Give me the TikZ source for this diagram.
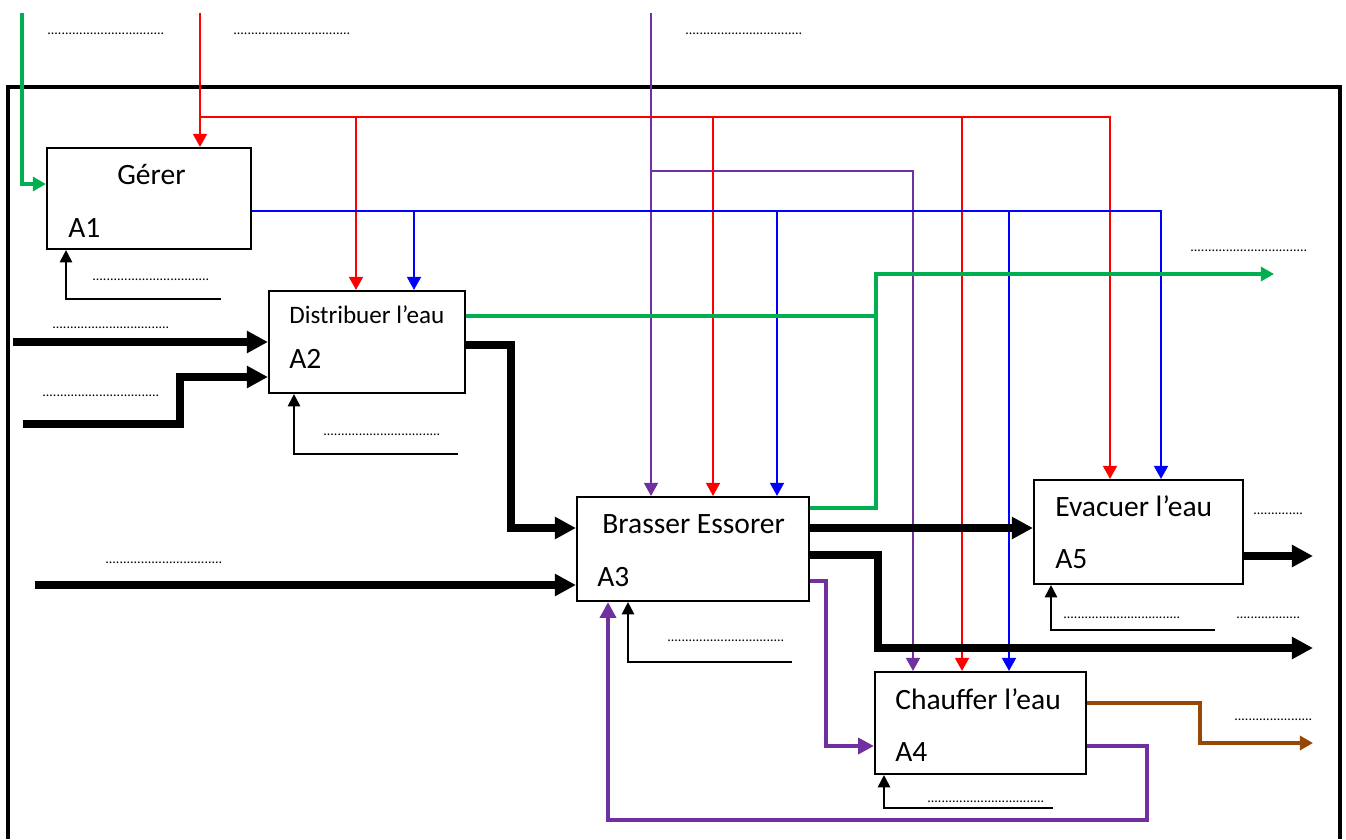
\documentclass[tikz,border=0pt]{standalone}
\usepackage{fontspec}
\setmainfont{Carlito}
\usetikzlibrary{arrows.meta,fit}
\definecolor{cred}{RGB}{255,0,0}
\definecolor{cblue}{RGB}{0,0,255}
\definecolor{cgreen}{RGB}{0,176,80}
\definecolor{cpurple}{RGB}{112,48,160}
\definecolor{cbrown}{RGB}{152,72,6}
\begin{document}
\begin{tikzpicture}[x=0.02cm,y=-0.02cm,
 box/.style={draw,line width=1.2pt,inner sep=0pt},
 lbl/.style={anchor=base west,inner sep=0pt,font=\fontsize{16.8}{18}\selectfont},
 lbls/.style={anchor=base west,inner sep=0pt,font=\fontsize{14.3}{16}\selectfont},
 dotlbl/.style={anchor=base west,inner sep=0pt,font=\fontsize{8}{9}\selectfont},
 thinarr/.style={line width=1.1pt,-{Triangle[length=7.5pt,width=8pt]}},
 mech/.style={line width=1.1pt,black,-{Triangle[length=7pt,width=7pt]}},
 thickarr/.style={line width=4pt,black,-{Triangle[length=12pt,width=12pt]}},
 purparr/.style={line width=2.8pt,cpurple,-{Triangle[length=9pt,width=9pt]}},
 greenarr/.style={line width=1.8pt,cgreen,-{Triangle[length=7.5pt,width=8pt]}},
 greenline/.style={line width=1.8pt,cgreen},
 brownarr/.style={line width=1.9pt,cbrown,-{Triangle[length=7.5pt,width=8pt]}},
 frame/.style={line width=2.3pt,black}]
\path[use as bounding box] (0,0) rectangle (1346,839);

% outer frame
\draw[frame] (8,839) -- (8,87) -- (1340,87) -- (1340,839);

% boxes
\node[box,fit={(47,148) (251,249)}] (A1) {};
\node[box,fit={(269,291) (465,393)}] (A2) {};
\node[box,fit={(577,497) (809,601)}] (A3) {};
\node[box,fit={(875,672) (1086,774)}] (A4) {};
\node[box,fit={(1034,480) (1243,584)}] (A5) {};

% box texts
\node[lbl] (t1) at (117,184) {Gérer};
\node[lbl] (n1) at (68,237) {A1};
\node[lbls] (t2) at (289,323) {Distribuer l’eau};
\node[lbl] (n2) at (289,368) {A2};
\node[lbl] (t3) at (602,533) {Brasser Essorer};
\node[lbl] (n3) at (597,586) {A3};
\node[lbl] (t5) at (1055,516) {Evacuer l’eau};
\node[lbl] (n5) at (1055,568) {A5};
\node[lbl] (t4) at (895,709) {Chauffer l’eau};
\node[lbl] (n4) at (895,761) {A4};

% free ends
\coordinate (gIn) at (22,13);
\coordinate (rIn) at (200,13);
\coordinate (pIn) at (651,13);
\coordinate (gOut) at (1274,274);
\coordinate (in2a) at (13,342);
\coordinate (in2b) at (23,424);
\coordinate (in3) at (35,585);
\coordinate (out5) at (1313,556);
\coordinate (out3) at (1313,648);
\coordinate (out4) at (1313,743);
\coordinate (m1) at (221,299);
\coordinate (m2) at (458,454);
\coordinate (m3) at (792,662);
\coordinate (m5) at (1215,630);
\coordinate (m4) at (1053,808);

% purple controls
\draw[thinarr,cpurple] (pIn) -- (A3.north -| 651,0);
\draw[thinarr,cpurple] (651,171) -| (A4.north -| 913,0);

% red controls
\draw[thinarr,cred] (rIn) -- (A1.north -| 200,0);
\draw[thinarr,cred] (200,117) -| (A5.north -| 1110,0);
\draw[thinarr,cred] (356,117) -- (A2.north -| 356,0);
\draw[thinarr,cred] (713,117) -- (A3.north -| 713,0);
\draw[thinarr,cred] (962,117) -- (A4.north -| 962,0);

% blue controls
\draw[thinarr,cblue] (A1.east |- 0,211) -| (A5.north -| 1161,0);
\draw[thinarr,cblue] (414,211) -- (A2.north -| 414,0);
\draw[thinarr,cblue] (777,211) -- (A3.north -| 777,0);
\draw[thinarr,cblue] (1009,211) -- (A4.north -| 1009,0);

% green
\draw[greenarr] (gIn) |- (A1.west |- 0,184);
\draw[greenline] (A2.east |- 0,316) -- (876,316);
\draw[greenarr] (A3.east |- 0,508) -| (876,274) -- (gOut);

% black thick flows
\draw[thickarr] (in2a) -- (A2.west |- 0,342);
\draw[thickarr] (in2b) -| (180,377) -- (A2.west |- 0,377);
\draw[thickarr] (A2.east |- 0,345) -| (511,528) -- (A3.west |- 0,528);
\draw[thickarr] (in3) -- (A3.west |- 0,585);
\draw[thickarr] (A3.east |- 0,528) -- (A5.west |- 0,528);
\draw[thickarr] (A3.east |- 0,555) -| (878,648) -- (out3);
\draw[thickarr] (A5.east |- 0,556) -- (out5);

% purple thick flows
\draw[purparr] (A3.east |- 0,581) -| (826,746) -- (A4.west |- 0,746);
\draw[purparr] (A4.east |- 0,746) -| (1147,820) -| (A3.south -| 608,0);

% brown
\draw[brownarr] (A4.east |- 0,703) -| (1200,743) -- (out4);

% mechanisms
\draw[mech] (m1) -| (A1.south -| 66,0);
\draw[mech] (m2) -| (A2.south -| 294,0);
\draw[mech] (m3) -| (A3.south -| 628,0);
\draw[mech] (m5) -| (A5.south -| 1051,0);
\draw[mech] (m4) -| (A4.south -| 884,0);

% dotted placeholders
\node[dotlbl] (d1) at (47,34) {.................................};
\node[dotlbl] (d2) at (233,34) {.................................};
\node[dotlbl] (d3) at (685,34) {.................................};
\node[dotlbl] (d4) at (92,280) {.................................};
\node[dotlbl] (d5) at (52,328) {.................................};
\node[dotlbl] (d6) at (42,396) {.................................};
\node[dotlbl] (d7) at (323,435) {.................................};
\node[dotlbl] (d8) at (105,563) {.................................};
\node[dotlbl] (d9) at (667,641) {.................................};
\node[dotlbl] (d10) at (1190,251) {.................................};
\node[dotlbl] (d11) at (1253,514) {..............};
\node[dotlbl] (d12) at (1063,618) {.................................};
\node[dotlbl] (d13) at (1236,618) {..................};
\node[dotlbl] (d14) at (1234,720) {......................};
\node[dotlbl] (d15) at (927,802) {.................................};
\end{tikzpicture}
\end{document}
